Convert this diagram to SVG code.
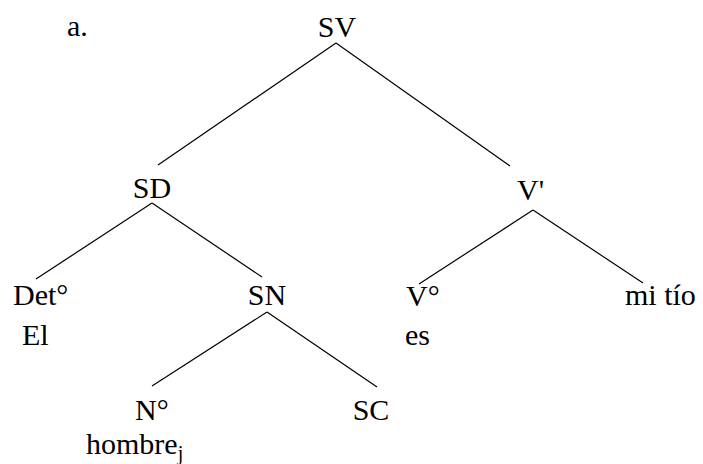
<svg xmlns="http://www.w3.org/2000/svg" width="703" height="464" viewBox="0 0 703 464">
<rect width="703" height="464" fill="#fff"/>
<g id="connectors" stroke="#000" stroke-width="1.2">
<line x1="336" y1="43" x2="158" y2="165"/>
<line x1="336" y1="43" x2="510" y2="166"/>
<line x1="152" y1="203" x2="36" y2="279"/>
<line x1="152" y1="203" x2="262" y2="277"/>
<line x1="533" y1="210" x2="419" y2="284"/>
<line x1="533" y1="210" x2="643" y2="283"/>
<line x1="267" y1="312" x2="152" y2="386"/>
<line x1="267" y1="312" x2="377" y2="387"/>
</g>
<g id="label-a"><text x="67" y="36" font-family="Liberation Serif" font-size="30">a.</text></g>
<g id="SV"><text x="337" y="37" text-anchor="middle" font-family="Liberation Serif" font-size="30">SV</text></g>
<g id="SD"><text x="152" y="198" text-anchor="middle" font-family="Liberation Serif" font-size="30">SD</text></g>
<g id="Vbar"><text x="517" y="200" font-family="Liberation Serif" font-size="30">V'</text></g>
<g id="Det"><text x="13" y="305" font-family="Liberation Serif" font-size="30">Det&#176;</text><text x="22" y="345" font-family="Liberation Serif" font-size="30">El</text></g>
<g id="SN"><text x="267" y="305" text-anchor="middle" font-family="Liberation Serif" font-size="30">SN</text></g>
<g id="V0"><text x="406" y="306" font-family="Liberation Serif" font-size="30">V&#176;</text><text x="405" y="345" font-family="Liberation Serif" font-size="30">es</text></g>
<g id="mitio"><text x="625" y="305" font-family="Liberation Serif" font-size="30">mi t&#237;o</text></g>
<g id="N0"><text x="135" y="420" font-family="Liberation Serif" font-size="30">N&#176;</text><text x="86" y="454" font-family="Liberation Serif" font-size="30">hombre<tspan font-size="20" dy="6">j</tspan></text></g>
<g id="SC"><text x="371" y="420" text-anchor="middle" font-family="Liberation Serif" font-size="30">SC</text></g>
</svg>
